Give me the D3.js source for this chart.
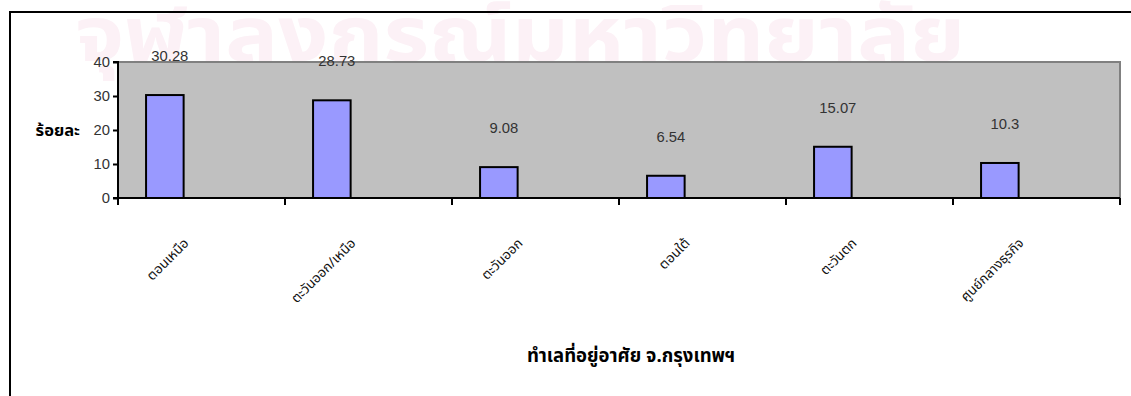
<!DOCTYPE html>
<html>
<head>
<meta charset="utf-8">
<script src="https://cdn.jsdelivr.net/npm/d3@7"></script>
<style>
  html, body { margin: 0; padding: 0; background: #fff; }
  svg { display: block; }
  .thai { font-family: Tahoma, "Noto Sans Thai", "Loma", "Garuda", sans-serif; }
  .num { font-family: "Liberation Sans", Arial, sans-serif; }
</style>
</head>
<body>
<svg id="chart" width="1131" height="396"></svg>
<script>
// Share of respondents by residential zone of Bangkok (percent)
const categories = ["ตอนเหนือ", "ตะวันออก/เหนือ", "ตะวันออก", "ตอนใต้", "ตะวันตก", "ศูนย์กลางธุรกิจ"];
const percents = [30.28, 28.73, 9.08, 6.54, 15.07, 10.3];
const yTicks = [0, 10, 20, 30, 40];
const yTitle = "ร้อยละ";
const xTitle = "ทำเลที่อยู่อาศัย จ.กรุงเทพฯ";
const watermark = "จุฬาลงกรณ์มหาวิทยาลัย";

const svg = d3.select("#chart");
const plot = { left: 118, right: 1120, top: 62, bottom: 198 };

// faint background watermark
svg.append("text")
  .attr("class", "thai")
  .attr("x", 75).attr("y", 61)
  .attr("textLength", 890).attr("lengthAdjust", "spacingAndGlyphs")
  .attr("font-size", 76).attr("font-weight", "bold")
  .attr("fill", "#fcf1f6")
  .text(watermark);

// outer chart frame (only left and top edges fall inside the view)
svg.append("path")
  .attr("d", "M10,396 V12 H1131")
  .attr("fill", "none").attr("stroke", "#000").attr("stroke-width", 2);

const x = d3.scaleBand().domain(categories).range([plot.left, plot.right]).padding(0);
const y = d3.scaleLinear().domain([0, 40]).range([plot.bottom, plot.top]);

// plot area
svg.append("rect")
  .attr("x", plot.left).attr("y", plot.top)
  .attr("width", plot.right - plot.left).attr("height", plot.bottom - plot.top)
  .attr("fill", "#c0c0c0");
svg.append("path")
  .attr("d", `M${plot.left},${plot.top} H${plot.right} V${plot.bottom}`)
  .attr("fill", "none").attr("stroke", "#808080").attr("stroke-width", 2);

// bars
const barOffset = x.bandwidth() * 0.168;
const barWidth = x.bandwidth() * 0.225;
svg.append("g").selectAll("rect")
  .data(categories)
  .join("rect")
  .attr("x", (d) => x(d) + barOffset)
  .attr("y", (d, i) => y(percents[i]))
  .attr("width", barWidth)
  .attr("height", (d, i) => y(0) - y(percents[i]))
  .attr("fill", "#9999ff")
  .attr("stroke", "#000").attr("stroke-width", 2);

// value labels
svg.append("g").selectAll("text")
  .data(categories)
  .join("text")
  .attr("class", "num")
  .attr("x", (d) => x(d) + barOffset + barWidth / 2 + 5)
  .attr("y", (d, i) => y(percents[i]) - 34)
  .attr("text-anchor", "middle")
  .attr("font-size", 14.8)
  .attr("fill", "#333")
  .text((d, i) => percents[i]);

// y axis
const yAxis = d3.axisLeft(y).tickValues(yTicks).tickSize(5).tickPadding(3);
const gy = svg.append("g").attr("transform", `translate(${plot.left},0)`).call(yAxis);
gy.select(".domain").attr("stroke", "#000").attr("stroke-width", 2).attr("d", `M-5,${plot.bottom}H0V${plot.top}H-5`);
gy.selectAll(".tick line").attr("stroke", "#000").attr("stroke-width", 2);
gy.selectAll(".tick text").attr("class", "num").attr("font-size", 14.8).attr("fill", "#333");

// x axis with ticks on category boundaries
const boundaries = categories.map((c) => x(c)).concat([plot.right]);
const gx = svg.append("g");
gx.append("line")
  .attr("x1", plot.left).attr("x2", plot.right)
  .attr("y1", plot.bottom).attr("y2", plot.bottom)
  .attr("stroke", "#000").attr("stroke-width", 2);
gx.selectAll("line.tick")
  .data(boundaries)
  .join("line")
  .attr("class", "tick")
  .attr("x1", (d) => d).attr("x2", (d) => d)
  .attr("y1", plot.bottom).attr("y2", plot.bottom + 7)
  .attr("stroke", "#000").attr("stroke-width", 2);

// rotated category labels
gx.selectAll("text")
  .data(categories)
  .join("text")
  .attr("class", "thai")
  .attr("font-size", 13.5)
  .attr("fill", "#111")
  .attr("text-anchor", "end")
  .attr("transform", (d) => `translate(${x(d) + x.bandwidth() / 2 - 12},244) rotate(-45)`)
  .text((d) => d);

// axis titles
svg.append("text")
  .attr("class", "thai")
  .attr("x", 80).attr("y", 136)
  .attr("text-anchor", "end")
  .attr("font-size", 16.5).attr("font-weight", "bold")
  .text(yTitle);

svg.append("text")
  .attr("class", "thai")
  .attr("x", 631).attr("y", 362)
  .attr("text-anchor", "middle")
  .attr("font-size", 18.5).attr("font-weight", "bold")
  .text(xTitle);
</script>
</body>
</html>
